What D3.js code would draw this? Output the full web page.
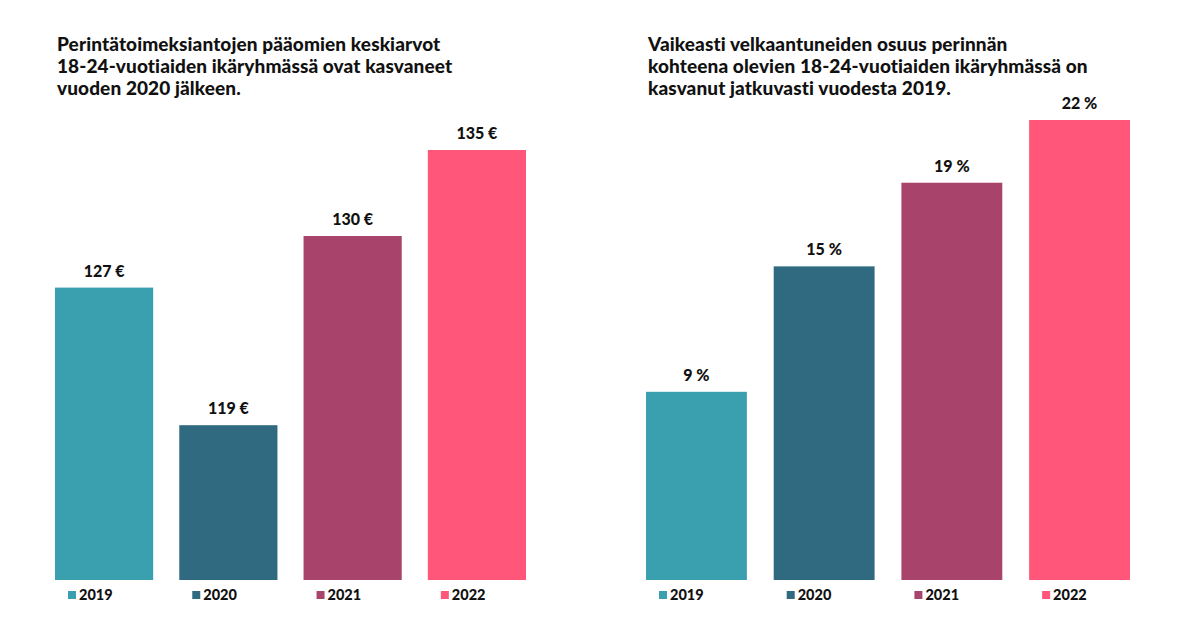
<!DOCTYPE html>
<html><head><meta charset="utf-8">
<script src="https://cdn.jsdelivr.net/npm/d3@7"></script>
<style>body{margin:0;background:#fff}svg{display:block}text{font-family:Lato,"Open Sans",sans-serif;fill:#111}</style>
</head><body><svg id="c" width="1200" height="628"></svg>
<script>
const years = ["2019","2020","2021","2022"];
const colors = ["#3a9fae","#2f6a80","#a8446b","#ff5679"];
const leftValues = [127,119,130,135];
const leftLabels = ["127 €","119 €","130 €","135 €"];
const rightValues = [9,15,19,22];
const rightLabels = ["9 %","15 %","19 %","22 %"];
const leftTitle = ["Perintätoimeksiantojen pääomien keskiarvot","18-24-vuotiaiden ikäryhmässä ovat kasvaneet","vuoden 2020 jälkeen."];
const rightTitle = ["Vaikeasti velkaantuneiden osuus perinnän","kohteena olevien 18-24-vuotiaiden ikäryhmässä on","kasvanut jatkuvasti vuodesta 2019."];

const svg = d3.select("#c");
function panel(x0, x1, title, values, labels, domain, r0){
  const g = svg.append("g");
  g.selectAll("text.t").data(title).join("text")
    .attr("x", x0+2).attr("y",(d,i)=>51+i*22).attr("font-size",19).attr("font-weight",900)
    .attr("letter-spacing",0.1).text(d=>d);
  const x = d3.scaleBand().domain(years).range([x0, x1]).paddingInner(0.21).paddingOuter(0);
  const y = d3.scaleLinear().domain(domain).range([580, r0]);
  g.selectAll("rect.b").data(values).join("rect")
    .attr("x",(d,i)=>x(years[i])).attr("width",x.bandwidth())
    .attr("y",d=>y(d)).attr("height",d=>580-y(d)).attr("fill",(d,i)=>colors[i]);
  g.selectAll("text.v").data(values).join("text")
    .attr("x",(d,i)=>x(years[i])+x.bandwidth()/2).attr("y",d=>y(d)-11)
    .attr("text-anchor","middle").attr("font-size",16).attr("font-weight",900).text((d,i)=>labels[i]);
  g.selectAll("rect.l").data(years).join("rect")
    .attr("x",d=>x(d)+13).attr("y",591).attr("width",8).attr("height",8).attr("fill",(d,i)=>colors[i]);
  g.selectAll("text.l").data(years).join("text")
    .attr("x",d=>x(d)+24).attr("y",600).attr("font-size",14.5).attr("font-weight",900).text(d=>d);
}
panel(55, 526, leftTitle, leftValues, leftLabels, [110, 135], 150);
panel(646, 1130, rightTitle, rightValues, rightLabels, [0, 22], 120);
</script></body></html>
